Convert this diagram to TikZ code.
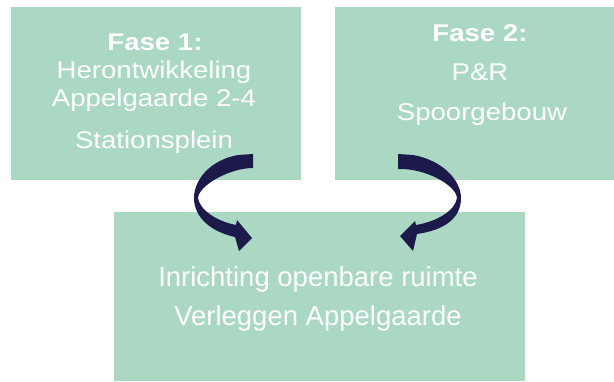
\documentclass[tikz,border=0pt]{standalone}
\usepackage{fontspec}
\setmainfont{Liberation Sans}
\newfontfamily\topfont{Liberation Sans}[FakeStretch=1.14]
\definecolor{boxgreen}{HTML}{AAD8C3}
\definecolor{navy}{HTML}{1B1A4B}
\begin{document}
\begin{tikzpicture}[x=1pt,y=-1pt,
  box/.style={fill=boxgreen,draw=none},
  toptxt/.style={anchor=base,text=white,inner sep=0pt,font=\topfont\fontsize{24.2}{28}\selectfont},
  bottxt/.style={anchor=base,text=white,inner sep=0pt,font=\fontsize{27.5}{32}\selectfont},
  bentarrow/.style={fill=navy,draw=none}]
\useasboundingbox (0,0) rectangle (614,381);
% boxes
\path[box] (11,7) rectangle (301,180);
\path[box] (335,7) rectangle (614,180);
\path[box] (114,212) rectangle (525,381);
% texts box 1
\node[toptxt,font=\topfont\bfseries\fontsize{24.2}{28}\selectfont] (f1) at (155,50) {Fase 1:};
\node[toptxt] (t11) at (154,78.3) {Herontwikkeling};
\node[toptxt] (t12) at (154,106.7) {Appelgaarde 2-4};
\node[toptxt] (t13) at (154,148) {Stationsplein};
% texts box 2
\node[toptxt,font=\topfont\bfseries\fontsize{24.2}{28}\selectfont] (f2) at (480,41) {Fase 2:};
\node[toptxt] (t21) at (480,80) {P\&R};
\node[toptxt] (t22) at (482,120) {Spoorgebouw};
% texts bottom box
\node[bottxt] (t31) at (318,286.7) {Inrichting openbare ruimte};
\node[bottxt] (t32) at (318,325) {Verleggen Appelgaarde};
% left curved arrow
\fill[bentarrow] (238,155) -- (253,154) -- (253,168)
  .. controls (230,168) and (199,185) .. (198,198)
  .. controls (200,210) and (216,221) .. (236,225)
  -- (237,220) -- (252,238) -- (239,251) -- (235,237)
  .. controls (212,232) and (194,218) .. (194,198)
  .. controls (194,180) and (210,160) .. (238,155) -- cycle;
% right curved arrow
\fill[bentarrow] (413,155) -- (398,154) -- (398,169)
  .. controls (425,168) and (456,185) .. (457,198)
  .. controls (455,210) and (439,221) .. (416,225)
  -- (415,221) -- (400,236) -- (413,251) -- (417,234)
  .. controls (445,230) and (461,218) .. (461,198)
  .. controls (461,180) and (442,160) .. (413,155) -- cycle;
\end{tikzpicture}
\end{document}
